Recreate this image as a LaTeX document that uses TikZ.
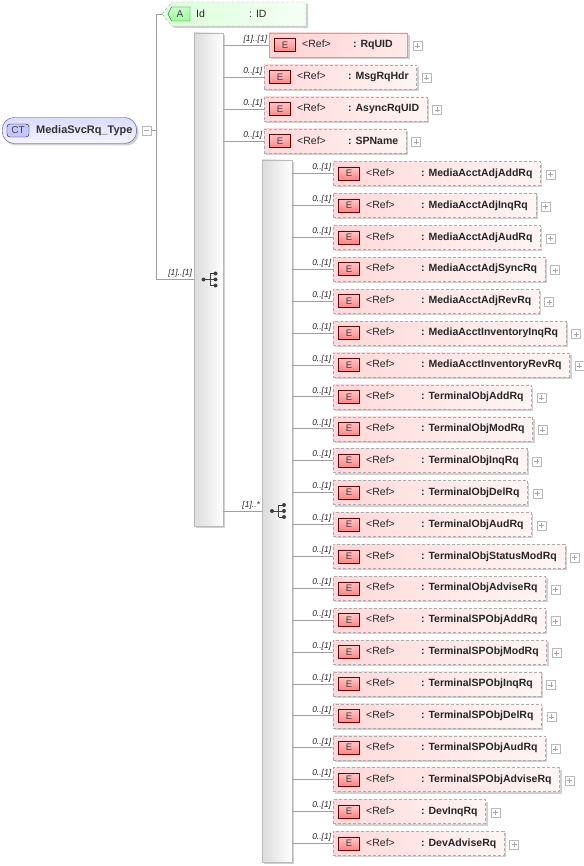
\documentclass[tikz,border=0pt]{standalone}
\usepackage{fontspec}
\setmainfont{Liberation Sans}
\usetikzlibrary{positioning,shadows}

% text of an element box: <Ref> column, then the name
\newcommand{\elemtext}[2]{\hspace*{33pt}\makebox[#1][l]{<Ref>}{\bfseries : #2}\hspace*{8pt}}

% sequence compositor symbol at a node
\newcommand{\seqicon}[1]{%
  \draw[black!75, line width=0.8pt] ([xshift=-5pt]#1) -- ([xshift=1.5pt]#1)
    ([xshift=1.5pt,yshift=6pt]#1) -- ([xshift=1.5pt,yshift=-6pt]#1);
  \fill[black!75] ([xshift=-5pt]#1) circle (2pt);
  \foreach \dy in {-6,0,6} {
    \draw[black!75, line width=0.8pt] ([xshift=1.5pt,yshift=\dy pt]#1) -- ([xshift=7pt,yshift=\dy pt]#1);
    \fill[black!75] ([xshift=7pt,yshift=\dy pt]#1) circle (2pt);
  }%
}

\begin{document}
\begin{tikzpicture}[x=1pt, y=-1pt,
  conn/.style={draw=gray!75, line width=0.7pt},
  mult/.style={font=\fontsize{8.5}{10}\selectfont\itshape, inner sep=1.5pt, text=black!85},
  boxshadow/.style={drop shadow={shadow xshift=2pt, shadow yshift=-2pt, opacity=0.18, fill=black}},
  elem/.style={boxshadow, draw=gray!65, dash pattern=on 3pt off 2pt, left color=red!15, right color=red!4,
    minimum height=24pt, inner xsep=0pt, inner ysep=0pt, anchor=west,
    font=\fontsize{10.5}{12}\selectfont, text=black!85},
  ebadge/.style={draw=red!45!black, top color=red!22, bottom color=red!48, minimum width=21pt,
    minimum height=13pt, inner sep=0pt, font=\fontsize{9.5}{10}\selectfont, text=black!75},
  plusbox/.style={draw=gray!55, fill=white, minimum size=9pt, inner sep=0pt,
    path picture={\draw[gray!70] ([xshift=-2.5pt]path picture bounding box.center) -- ([xshift=2.5pt]path picture bounding box.center)
      ([yshift=-2.5pt]path picture bounding box.center) -- ([yshift=2.5pt]path picture bounding box.center);}},
  minusbox/.style={draw=gray!55, fill=white, minimum size=9pt, inner sep=0pt,
    path picture={\draw[gray!70] ([xshift=-2.5pt]path picture bounding box.center) -- ([xshift=2.5pt]path picture bounding box.center);}},
  seqbar/.style={boxshadow, draw=gray!55, left color=gray!28, right color=white, inner sep=0pt},
]
\useasboundingbox (0,0) rectangle (583,866);

% Complex type
\node[boxshadow, draw=gray!60!blue, rounded corners=12pt, top color=blue!14, bottom color=blue!4,
  minimum height=26pt, inner sep=0pt, anchor=west, font=\fontsize{11}{13}\selectfont\bfseries, text=black!80]
  (ct) at (2,130.5) {\hspace*{34pt}MediaSvcRq\_Type\hspace*{4pt}};
\node[draw=blue!40!black, rounded corners=3pt, fill=blue!22, minimum width=22pt, minimum height=13pt,
  inner sep=0pt, font=\fontsize{10}{11}\selectfont, text=black!75] (ctb) at (18,130.5) {CT};
\node[minusbox] (ctm) at (146.5,130.5) {};
\coordinate (fork) at (156,130.5);

% Attribute, pointed on the left
\path[boxshadow, draw=gray!65, dash pattern=on 3pt off 2pt, left color=green!14, right color=green!4]
  (162,14) -- (172,2) -- (306,2) -- (306,26) -- (172,26) -- cycle;
\node[minimum width=144pt, minimum height=24pt, inner sep=0pt, anchor=west,
  font=\fontsize{10.5}{12}\selectfont, text=black!85]
  (idattr) at (162,14) {\hspace*{34pt}\makebox[53pt][l]{Id}\makebox[57pt][l]{: ID}};
\path[draw=green!35!black, top color=green!20, bottom color=green!40]
  (168,14) -- (171.5,7) -- (190,7) -- (190,21) -- (171.5,21) -- cycle;
\node[inner sep=0pt, font=\fontsize{10}{11}\selectfont, text=black!75] (ab) at (180,14) {A};

% Sequences
\node[seqbar, minimum width=29pt, minimum height=493pt] (seqa) at (208.5,279.5) {};
\node[seqbar, minimum width=30pt, minimum height=702pt] (seqb) at (277,511) {};
\seqicon{seqa.center}
\seqicon{seqb.center}

% Type to attribute and first sequence
\draw[conn] (ctm.east) -- (fork);
\draw[conn] (fork |- idattr.west) -- (fork |- seqa.west);
\draw[conn] (fork |- idattr.west) -- (idattr.west);
\draw[conn] (fork |- seqa.west) -- (seqa.west) node[mult, above left] {[1]..[1]};
\draw[conn] (seqa.east |- seqb.west) -- (seqb.west) node[mult, above left] {[1]..*};

% Children of first sequence
\node[elem, solid, left color=red!18, right color=red!8] (rquid) at (269,45) {\elemtext{51pt}{RqUID}\hspace*{7pt}};
\node[ebadge] (rquidb) at ([xshift=16pt]rquid.west) {E};
\node[plusbox, right=5pt of rquid.east, yshift=-1pt] (rquidp) {};
\draw[conn] (seqa.east |- rquid.west) -- (rquid.west) node[mult, above left] {[1]..[1]};
\foreach \nm/\yy [count=\i] in {MsgRqHdr/77, AsyncRqUID/109, SPName/141} {
  \node[elem] (a\i) at (264,\yy) {\elemtext{51pt}{\nm}};
  \node[ebadge] (ab\i) at ([xshift=16pt]a\i.west) {E};
  \node[plusbox, right=5pt of a\i.east, yshift=-1pt] (ap\i) {};
  \draw[conn] (seqa.east |- a\i.west) -- (a\i.west) node[mult, above left] {0..[1]};
}

% Children of second sequence
\foreach \nm [count=\i] in {MediaAcctAdjAddRq, MediaAcctAdjInqRq, MediaAcctAdjAudRq, MediaAcctAdjSyncRq,
  MediaAcctAdjRevRq, MediaAcctInventoryInqRq, MediaAcctInventoryRevRq, TerminalObjAddRq, TerminalObjModRq,
  TerminalObjInqRq, TerminalObjDelRq, TerminalObjAudRq, TerminalObjStatusModRq, TerminalObjAdviseRq,
  TerminalSPObjAddRq, TerminalSPObjModRq, TerminalSPObjInqRq, TerminalSPObjDelRq, TerminalSPObjAudRq,
  TerminalSPObjAdviseRq, DevInqRq, DevAdviseRq} {
  \node[elem] (c\i) at (333,{173.5+31.9*(\i-1)}) {\elemtext{55pt}{\nm}};
  \node[ebadge] (cb\i) at ([xshift=16pt]c\i.west) {E};
  \node[plusbox, right=5pt of c\i.east, yshift=-1pt] (cp\i) {};
  \draw[conn] (seqb.east |- c\i.west) -- (c\i.west) node[mult, above left] {0..[1]};
}
\end{tikzpicture}
\end{document}
